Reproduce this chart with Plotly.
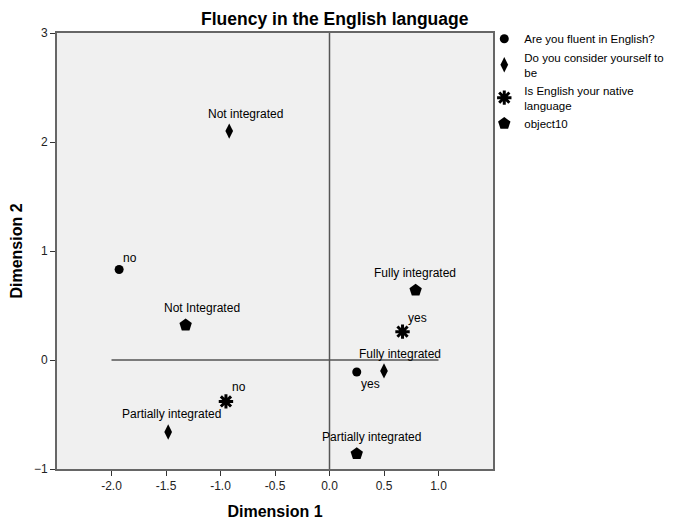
import plotly.graph_objects as go

# Data
fluent_labels = ["no", "yes"]
fluent_x = [-1.93, 0.25]
fluent_y = [0.83, -0.11]

consider_labels = ["Not integrated", "Fully integrated", "Partially integrated"]
consider_x = [-0.92, 0.50, -1.48]
consider_y = [2.10, -0.10, -0.66]

native_labels = ["yes", "no"]
native_x = [0.67, -0.95]
native_y = [0.26, -0.38]

obj_labels = ["Fully integrated", "Not Integrated", "Partially integrated"]
obj_x = [0.79, -1.32, 0.25]
obj_y = [0.64, 0.32, -0.86]

x_ticks = [-2.0, -1.5, -1.0, -0.5, 0.0, 0.5, 1.0]
y_ticks = [-1, 0, 1, 2, 3]

FONT = "Liberation Sans, Arial, sans-serif"

fig = go.Figure()

series = [
    ("Are you fluent in English?", fluent_x, fluent_y, fluent_labels,
     dict(symbol="circle", size=9, color="black")),
    ("Do you consider yourself to<br>be", consider_x, consider_y, consider_labels,
     dict(symbol="diamond-tall", size=11, color="black")),
    ("Is English your native<br>language", native_x, native_y, native_labels,
     dict(symbol="asterisk", size=12, color="black", line=dict(width=3, color="black"))),
    ("object10", obj_x, obj_y, obj_labels,
     dict(symbol="pentagon", size=13, color="black")),
]

for name, xs, ys, _, mk in series:
    fig.add_trace(go.Scatter(x=xs, y=ys, mode="markers", name=name, marker=mk,
                             hoverinfo="skip"))

# label offsets in pixels (style only), per series order
label_offsets = {
    0: [(11, 12), (14, -12)],
    1: [(16, 17), (16, 17), (3, 18)],
    2: [(15, 14), (13, 14)],
    3: [(-1, 17), (16, 17), (15, 17)],
}
for i, (name, xs, ys, labels, mk) in enumerate(series):
    for j, (x, y, t) in enumerate(zip(xs, ys, labels)):
        dx, dy = label_offsets[i][j]
        fig.add_annotation(x=x, y=y, text=t, showarrow=False, xshift=dx, yshift=dy,
                           font=dict(family=FONT, size=12, color="black"))

# reference lines
fig.add_shape(type="line", x0=0, x1=0, y0=-1, y1=3, xref="x", yref="y",
              line=dict(color="#555", width=1.5), layer="below")
fig.add_shape(type="line", x0=-2.0, x1=1.0, y0=0, y1=0, xref="x", yref="y",
              line=dict(color="#555", width=1.5), layer="below")

fig.update_layout(
    width=671, height=512,
    margin=dict(l=49, r=186, t=25, b=51, autoexpand=False),
    paper_bgcolor="white", plot_bgcolor="#f0f0f0",
    font=dict(family=FONT, size=12, color="black"),
    title=dict(text="<b>Fluency in the English language</b>", x=0.487, xanchor="center",
               y=0.978, yanchor="middle", font=dict(size=17.5, family=FONT)),
    showlegend=True,
    legend=dict(x=0.98, y=1.02, xanchor="left", yanchor="top",
                font=dict(family=FONT, size=11.5), bgcolor="rgba(0,0,0,0)",
                itemsizing="trace", tracegroupgap=0),
)
fig.update_xaxes(range=[-2.5, 1.5], tickvals=x_ticks, ticktext=[f"{v:.1f}" for v in x_ticks],
                 showgrid=False, zeroline=False, showline=True, linecolor="#666", linewidth=2,
                 mirror=True, ticks="outside", ticklen=5, tickcolor="#333",
                 tickfont=dict(size=12, color="#222"), automargin=False,
                 title=dict(text="<b>Dimension 1</b>", font=dict(size=16), standoff=13))
fig.update_yaxes(range=[-1, 3], tickvals=y_ticks,
                 showgrid=False, zeroline=False, showline=True, linecolor="#666", linewidth=2,
                 mirror=True, ticks="outside", ticklen=5, tickcolor="#333",
                 tickfont=dict(size=12, color="#222"), automargin=False,
                 title=dict(text="<b>Dimension 2</b>", font=dict(size=16), standoff=10))

fig.write_html("out.html")
